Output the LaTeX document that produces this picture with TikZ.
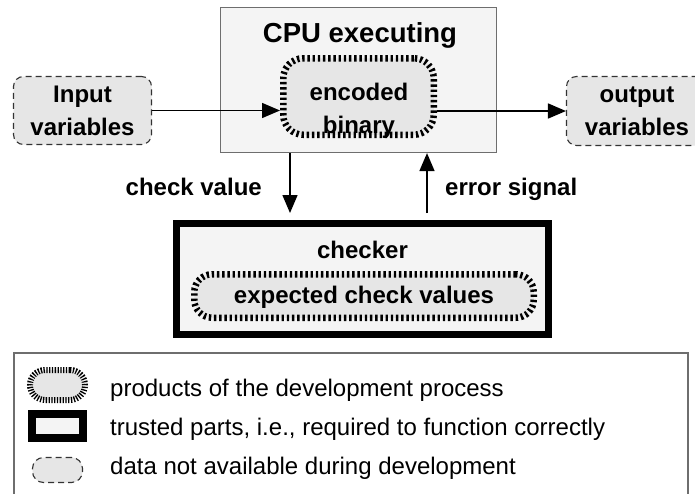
\documentclass[tikz,border=0pt]{standalone}
\usepackage{fontspec}
\setmainfont{Liberation Sans}
\usetikzlibrary{arrows.meta}
\definecolor{boxfill}{HTML}{F4F4F4}
\definecolor{datafill}{HTML}{E6E6E6}
\definecolor{framegray}{HTML}{6E6E6E}
\newcommand\twolines[2]{\begin{tabular}[t]{@{}c@{}}#1\\#2\end{tabular}}
\begin{document}
\begin{tikzpicture}[x=1pt,y=-1pt,
  bfont/.style={font=\bfseries\fontsize{24}{33}\selectfont},
  lfont/.style={font=\fontsize{24}{33}\selectfont},
  txt/.style={inner sep=0pt, anchor=base},
  cpubox/.style={draw=framegray, line width=1.2pt, fill=boxfill, inner sep=0pt},
  trusted/.style={draw=black, line width=7pt, fill=boxfill, inner sep=0pt},
  product/.style={draw=black, line width=6.5pt, dash pattern=on 2.4pt off 2.8pt, fill=datafill, rounded corners=20pt, inner sep=0pt},
  datab/.style={draw=black!80, line width=1.1pt, dash pattern=on 6pt off 4pt, fill=datafill, rounded corners=10pt, inner sep=0pt},
  arr/.style={line width=1.5pt, -{Triangle[length=18pt,width=15pt]}},
]
\useasboundingbox (0,0) rectangle (695,493);
\fill[white] (0,0) rectangle (695,493);
\clip (0,0) rectangle (695,493);

% CPU box
\node[cpubox, minimum width=276pt, minimum height=145pt] (cpu) at (358.5,80) {};
\node[txt, font=\bfseries\fontsize{27.5}{33}\selectfont] (cpul) at (360,42) {CPU executing};
\node[product, minimum width=150.5pt, minimum height=76.5pt] (enc) at (358.5,96.5) {};
\node[txt, bfont] (encl) at (359,100) {\twolines{encoded}{binary}};

% input / output
\node[datab, minimum width=138pt, minimum height=68pt] (inp) at (82.5,110.5) {};
\node[txt, bfont] (inpl) at (82.5,102) {\twolines{Input}{variables}};
\node[datab, minimum width=141pt, minimum height=69pt] (out) at (637,111) {};
\node[txt, bfont] (outl) at (637,102) {\twolines{output}{variables}};

% checker
\node[trusted, minimum width=372pt, minimum height=111pt] (checker) at (362.5,279) {};
\node[txt, bfont] (checkl) at (362.5,258) {checker};
\node[product, minimum width=339.5pt, minimum height=43.5pt, rounded corners=18pt] (exp) at (364,296) {};
\node[txt, bfont] (expl) at (364,303) {expected check values};

% arrows
\coordinate (cv) at (290,0);
\coordinate (es) at (427,0);
\draw[arr] (inp.east) -- (inp.east -| enc.west);
\draw[arr] (enc.east |- out.west) -- (out.west);
\draw[arr, shorten >=7pt] (cpu.south -| cv) -- (checker.north -| cv);
\draw[arr, shorten <=7pt] (checker.north -| es) -- (cpu.south -| es);
\node[txt, bfont, anchor=base east] (cvl) at (262,195) {check value};
\node[txt, bfont, anchor=base west] (esl) at (445,195) {error signal};

% legend
\node[draw=framegray, line width=1.3pt, fill=white, inner sep=0pt, minimum width=674pt, minimum height=154pt] (legend) at (351,430) {};
\node[product, line width=6pt, dash pattern=on 1.3pt off 1.5pt, rounded corners=15pt, minimum width=55pt, minimum height=30pt] (lp) at (57.5,385) {};
\node[trusted, line width=8pt, minimum width=51pt, minimum height=24pt] (lt) at (57.5,426) {};
\node[datab, minimum width=50pt, minimum height=25pt, rounded corners=11pt] (ld) at (57.5,470) {};
\node[txt, lfont, anchor=base west] (lpt) at (110,396) {products of the development process};
\node[txt, lfont, anchor=base west] (ltt) at (110,435) {trusted parts, i.e., required to function correctly};
\node[txt, lfont, anchor=base west] (ldt) at (110,474) {data not available during development};
\end{tikzpicture}
\end{document}
